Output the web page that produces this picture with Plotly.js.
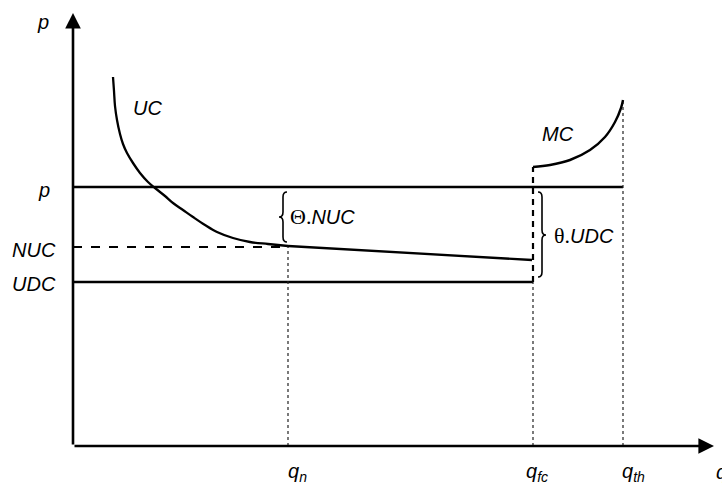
<!DOCTYPE html>
<html><head><meta charset="utf-8">
<script src="https://cdn.plot.ly/plotly-3.0.1.min.js"></script>
<style>html,body{margin:0;padding:0;background:#fff}</style>
</head><body><div id="chart" style="width:722px;height:487px"></div>
<script>
// Conceptual coordinates: origin at the axes' corner, q to the right, p upward
const ucCurveX = [40, 41, 42, 44, 47, 50, 54, 60, 67, 75, 82, 92, 100, 110, 120, 132, 144, 160, 177, 195, 215];
const ucCurveY = [369, 355, 340, 326, 312, 302, 293, 283, 273, 264, 258, 250, 243, 236, 229, 221, 214, 208, 204, 202, 200];
const ucLineX = [215, 459];
const ucLineY = [200, 186];
const mcX = [460, 477, 497, 517, 532, 542, 548, 550];
const mcY = [279, 281, 286, 296, 309, 324, 338, 346];
const pLevel = 259, nucLevel = 199, udcLevel = 164;
const qn = 215, qfc = 460, qth = 550;
const mcStart = 279, mcTop = 346;
const xAxisEnd = 641, yAxisEnd = 433;
const braceNUC = {x: 210, top: 254, bottom: 204, tip: 229};
const braceUDC = {x: 469, top: 254, bottom: 169, tip: 211};

const black = '#000';
function line(x, y, w, dash, color) {
  return {x: x, y: y, mode: 'lines', type: 'scatter', hoverinfo: 'skip',
    line: {color: color || black, width: w, dash: dash || 'solid'}};
}
const traces = [
  line([0, qth], [pLevel, pLevel], 2.4),
  line([0, qn], [nucLevel, nucLevel], 2, 'dash'),
  line([0, qfc], [udcLevel, udcLevel], 2.4),
  line([qn, qn], [0, nucLevel], 1.2, 'dot', '#222'),
  line([qfc, qfc], [0, udcLevel], 1.2, 'dot', '#222'),
  line([qth, qth], [0, mcTop], 1.2, 'dot', '#222'),
  line([qfc, qfc], [udcLevel, mcStart], 2.2, '6px,5px'),
  Object.assign(line(ucCurveX, ucCurveY, 2.3), {line: {color: black, width: 2.3, shape: 'spline', smoothing: 1}}),
  line(ucLineX, ucLineY, 2.3),
  Object.assign(line(mcX, mcY, 2.4), {line: {color: black, width: 2.4, shape: 'spline', smoothing: 1}})
];

function bracePath(b, s) {
  const w = 4, r = 5;
  const xe = b.x - s * w, xt = b.x + s * w, x = b.x;
  return `M${xe},${b.top} Q${x},${b.top} ${x},${b.top - r} L${x},${b.tip + r} Q${x},${b.tip} ${xt},${b.tip} ` +
         `Q${x},${b.tip} ${x},${b.tip - r} L${x},${b.bottom + r} Q${x},${b.bottom} ${xe},${b.bottom}`;
}
const shapes = [
  {type: 'path', xref: 'x', yref: 'y', path: bracePath(braceNUC, -1), line: {color: black, width: 1.6}},
  {type: 'path', xref: 'x', yref: 'y', path: bracePath(braceUDC, 1), line: {color: black, width: 1.6}}
];

const F = 'Liberation Sans, Arial, sans-serif';
function label(text, x, y, xanchor, size) {
  return {text: text, x: x, y: y, xref: 'x', yref: 'y', showarrow: false,
    xanchor: xanchor || 'center', yanchor: 'middle', font: {family: F, size: size || 20, color: black}};
}
const serif = '<span style="font-family:\'Liberation Serif\', serif;font-size:22px">';
const annotations = [
  {x: xAxisEnd, y: 0, ax: 0, ay: 0, axref: 'x', ayref: 'y', xref: 'x', yref: 'y', text: '',
   showarrow: true, arrowhead: 2, arrowsize: 1.2, arrowwidth: 2.6, arrowcolor: black, standoff: 0},
  {x: 0, y: yAxisEnd, ax: 0, ay: 0, axref: 'x', ayref: 'y', xref: 'x', yref: 'y', text: '',
   showarrow: true, arrowhead: 2, arrowsize: 1.2, arrowwidth: 2.6, arrowcolor: black, standoff: 0},
  label('<i>p</i>', -30, 424),
  label('<i>p</i>', -29, 256),
  label('<i>NUC</i>', -15, 196, 'right'),
  label('<i>UDC</i>', -15, 162, 'right'),
  label('<i>UC</i>', 74, 338),
  label('<i>MC</i>', 485, 312),
  label('<i>q<sub>n</sub></i>', 213, -26, 'left'),
  label('<i>q<sub>fc</sub></i>', 451, -26, 'left'),
  label('<i>q<sub>th</sub></i>', 547, -26, 'left'),
  label('<i>q</i>', 641, -26, 'left'),
  label(serif + 'Θ.</span><i>NUC</i>', 215, 230, 'left'),
  label(serif + 'θ.</span><i>UDC</i>', 479, 211, 'left')
];

const layout = {
  width: 722, height: 487, margin: {l: 0, r: 0, t: 0, b: 0},
  paper_bgcolor: '#fff', plot_bgcolor: '#fff', showlegend: false,
  xaxis: {range: [-73, 649], visible: false, fixedrange: true},
  yaxis: {range: [-41, 446], visible: false, fixedrange: true},
  shapes: shapes, annotations: annotations
};
Plotly.newPlot('chart', traces, layout, {displayModeBar: false, staticPlot: true});
</script></body></html>
